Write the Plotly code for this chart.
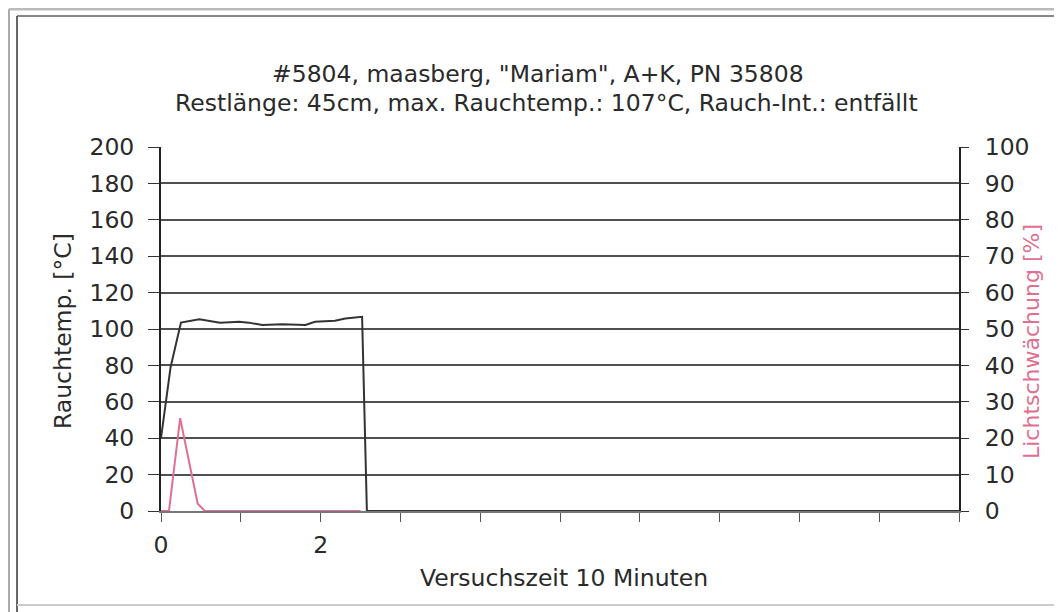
import plotly.graph_objects as go

# Data
time_temp = [0, 0.06, 0.12, 0.25, 0.48, 0.74, 0.98, 1.1, 1.27, 1.52, 1.81, 1.93, 2.18, 2.31, 2.52, 2.58, 10]
temp = [40, 61, 79, 103.5, 105.3, 103.5, 104, 103.5, 102.2, 102.6, 102.2, 104, 104.5, 105.8, 106.7, 0, 0]
time_light = [0, 0.1, 0.24, 0.46, 0.55, 2.5]
light = [0, 0, 25.5, 2, 0, 0]
x_tickvals = list(range(0, 11))
x_ticktext = ["0", "", "2", "", "", "", "", "", "", "", ""]
title1 = '#5804, maasberg, "Mariam", A+K, PN 35808'
title2 = "Restlänge: 45cm, max. Rauchtemp.: 107°C, Rauch-Int.: entfällt"

OFF = 8  # page body margin
W, H = 1062 - OFF, 612 - OFF
# plot area in page pixels
L, R, T, B = 161, 959, 147, 511
l, r, t, b = L - OFF, R - OFF, T - OFF, B - OFF

def px(x):
    return (x - L) / (R - L)

def py(y):
    return (B - y) / (B - T)

font = "DejaVu Sans, Verdana, sans-serif"
pink = "#e0708f"
txt = "#2a2a2a"
FS = 23.5

fig = go.Figure()
fig.add_trace(go.Scatter(x=time_temp, y=temp, mode="lines",
                         line=dict(color="#333333", width=2), yaxis="y", showlegend=False))
fig.add_trace(go.Scatter(x=time_light, y=light, mode="lines",
                         line=dict(color=pink, width=2), yaxis="y2", showlegend=False))

fig.update_layout(
    width=W, height=H,
    margin=dict(l=l, r=W - r, t=t, b=H - b, pad=0),
    paper_bgcolor="white", plot_bgcolor="white",
    font=dict(family=font, color=txt, size=FS),
    xaxis=dict(range=[0, 10], tickvals=x_tickvals, ticktext=x_ticktext,
               ticks="outside", ticklen=9, tickcolor="#555", showgrid=False,
               showline=True, linecolor="#777", linewidth=2, zeroline=False,
               tickfont=dict(size=FS), ticklabelstandoff=3),
    yaxis=dict(range=[0, 200], dtick=20, ticks="outside", ticklen=11, tickcolor="#333",
               showgrid=True, gridcolor="#505050", gridwidth=2, zeroline=False,
               showline=True, linecolor="#222", linewidth=2,
               tickfont=dict(size=FS), ticklabelstandoff=9),
    yaxis2=dict(range=[0, 100], dtick=10, overlaying="y", side="right",
                ticks="outside", ticklen=8, tickcolor="#333", showgrid=False,
                zeroline=False, showline=True, linecolor="#222", linewidth=2,
                tickfont=dict(size=FS), ticklabelstandoff=11),
    annotations=[
        dict(text=title1, x=px(538), y=py(74), xref="paper", yref="paper",
             showarrow=False, font=dict(size=FS), xanchor="center", yanchor="middle"),
        dict(text=title2, x=px(546), y=py(103), xref="paper", yref="paper",
             showarrow=False, font=dict(size=FS), xanchor="center", yanchor="middle"),
        dict(text="Rauchtemp. [°C]", x=px(63), y=py(331), xref="paper", yref="paper",
             showarrow=False, textangle=-90, font=dict(size=FS), xanchor="center", yanchor="middle"),
        dict(text="Lichtschwächung [%]", x=px(1031), y=py(342), xref="paper", yref="paper",
             showarrow=False, textangle=-90, font=dict(size=22, color=pink),
             xanchor="center", yanchor="middle"),
        dict(text="Versuchszeit 10 Minuten", x=px(564), y=py(578), xref="paper", yref="paper",
             showarrow=False, font=dict(size=FS), xanchor="center", yanchor="middle"),
    ],
    shapes=[
        # outer light frame lines
        dict(type="line", xref="paper", yref="paper",
             x0=px(9), x1=px(9), y0=py(9), y1=py(612),
             line=dict(color="#aaa", width=2)),
        dict(type="line", xref="paper", yref="paper",
             x0=px(9), x1=px(1062), y0=py(9), y1=py(9),
             line=dict(color="#bbb", width=3)),
        # inner frame lines
        dict(type="line", xref="paper", yref="paper",
             x0=px(17), x1=px(1062), y0=py(16), y1=py(16),
             line=dict(color="#888", width=2)),
        dict(type="line", xref="paper", yref="paper",
             x0=px(17), x1=px(17), y0=py(16), y1=py(612),
             line=dict(color="#666", width=2)),
        dict(type="line", xref="paper", yref="paper",
             x0=px(17), x1=px(1062), y0=py(605), y1=py(605),
             line=dict(color="#ccc", width=2)),
    ],
)

fig.write_html("out.html")
